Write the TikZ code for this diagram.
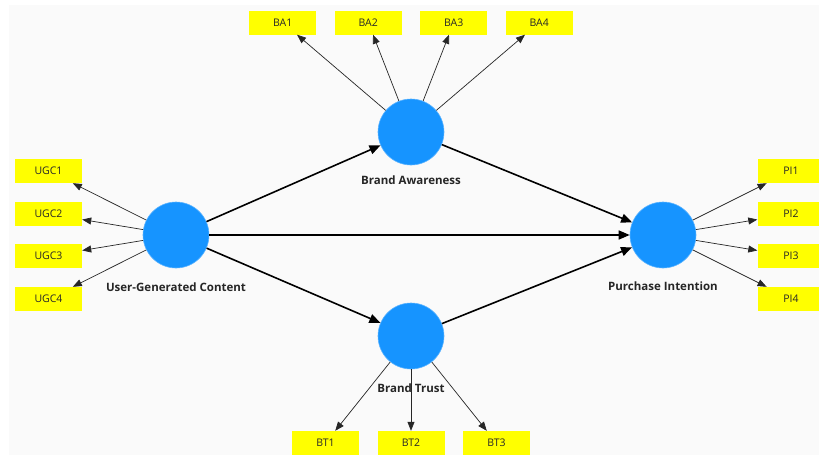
\documentclass[tikz,border=0pt]{standalone}
\usepackage{fontspec}
\setmainfont{Open Sans}
\usetikzlibrary{arrows.meta}
\definecolor{lvblue}{RGB}{22,148,255}
\definecolor{indyel}{RGB}{255,255,0}
\definecolor{bgcol}{RGB}{250,250,250}
\definecolor{txtcol}{RGB}{40,40,40}
\tikzset{
  latent/.style={circle, fill=lvblue, draw=lvblue!70!white, line width=0.6pt, minimum size=66pt, inner sep=0pt},
  indicator/.style={rectangle, fill=indyel, minimum width=67pt, minimum height=24pt, inner sep=0pt, font=\fontsize{10.5}{12}\selectfont, text=txtcol},
  lvlabel/.style={font=\fontsize{11.5}{13}\selectfont\bfseries, text=black!85},
  loading/.style={draw=black!85, line width=0.7pt, -{Triangle[length=9pt,width=7pt]}},
  path/.style={draw=black, line width=1.6pt, -{Triangle[length=11pt,width=9pt]}}
}
\begin{document}
\begin{tikzpicture}[x=1pt,y=-1pt]
\useasboundingbox (0,0) rectangle (819,455);
\fill[bgcol] (9,5) rectangle (819,455);
% latent variables
\node[latent] (ugc) at (176,235) {};
\node[latent] (ba) at (411,132) {};
\node[latent] (bt) at (411,336) {};
\node[latent] (pi) at (663,235) {};
% labels
\node[lvlabel] (ugcl) at (176,287) {User-Generated Content};
\node[lvlabel] (bal) at (411,180) {Brand Awareness};
\node[lvlabel] (btl) at (411,388) {Brand Trust};
\node[lvlabel] (pil) at (663,286) {Purchase Intention};
% indicators
\node[indicator] (ugc1) at (48.5,171) {UGC1};
\node[indicator] (ugc2) at (48.5,214) {UGC2};
\node[indicator] (ugc3) at (48.5,256) {UGC3};
\node[indicator] (ugc4) at (48.5,299) {UGC4};
\node[indicator] (pi1) at (791,171) {PI1};
\node[indicator] (pi2) at (791,214) {PI2};
\node[indicator] (pi3) at (791,256) {PI3};
\node[indicator] (pi4) at (791,299) {PI4};
\node[indicator] (ba1) at (282.75,22.5) {BA1};
\node[indicator] (ba2) at (368.25,22.5) {BA2};
\node[indicator] (ba3) at (453.75,22.5) {BA3};
\node[indicator] (ba4) at (539.25,22.5) {BA4};
\node[indicator] (bt1) at (325.5,443) {BT1};
\node[indicator] (bt2) at (411,443) {BT2};
\node[indicator] (bt3) at (496.5,443) {BT3};
% loadings
\foreach \i in {1,2,3,4} {
  \draw[loading] (ugc) -- (ugc\i);
  \draw[loading] (pi) -- (pi\i);
  \draw[loading] (ba) -- (ba\i);
}
\foreach \i in {1,2,3} {
  \draw[loading] (bt) -- (bt\i);
}
% structural paths
\draw[path] (ugc) -- (ba);
\draw[path] (ugc) -- (bt);
\draw[path] (ugc) -- (pi);
\draw[path] (ba) -- (pi);
\draw[path] (bt) -- (pi);
\end{tikzpicture}
\end{document}
